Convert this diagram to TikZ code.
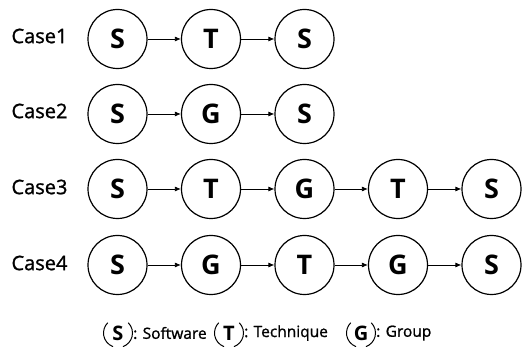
\documentclass[tikz,border=0pt]{standalone}
\usepackage{fontspec}
\setmainfont{Open Sans}
\newfontfamily\semifont[FakeBold=1.2]{Open Sans}
\usetikzlibrary{arrows.meta}
\begin{document}
\begin{tikzpicture}[x=1pt,y=-1pt,
  state/.style={circle,draw,line width=1.2pt,minimum size=59pt,inner sep=0pt,
    font=\fontsize{27}{29}\selectfont\bfseries},
  caselabel/.style={font=\semifont\fontsize{20}{22}\selectfont},
  link/.style={-{Latex[length=6pt,width=5pt]},line width=0.8pt},
  legtext/.style={anchor=west,inner sep=0pt,font=\semifont\fontsize{15.5}{17}\selectfont},
  legletter/.style={inner sep=0pt,font=\fontsize{20}{22}\selectfont\bfseries}]
\useasboundingbox (0,0) rectangle (525,347);
% row labels
\node[caselabel] (c1) at (39.5,36) {Case1};
\node[caselabel] (c2) at (39.5,111) {Case2};
\node[caselabel] (c3) at (39.5,187) {Case3};
\node[caselabel] (c4) at (39.5,263) {Case4};
% Case 1
\node[state] (a1) at (117.5,39) {S};
\node[state] (a2) at (211,39) {T};
\node[state] (a3) at (304.5,39) {S};
\draw[link] (a1) -- (a2);
\draw[link] (a2) -- (a3);
% Case 2
\node[state] (b1) at (117.5,114) {S};
\node[state] (b2) at (211,114) {G};
\node[state] (b3) at (304.5,114) {S};
\draw[link] (b1) -- (b2);
\draw[link] (b2) -- (b3);
% Case 3
\node[state] (d1) at (117.5,189) {S};
\node[state] (d2) at (211,189) {T};
\node[state] (d3) at (304.5,189) {G};
\node[state] (d4) at (398,189) {T};
\node[state] (d5) at (491.5,189) {S};
\foreach \i/\j in {1/2,2/3,3/4,4/5} \draw[link] (d\i) -- (d\j);
% Case 4
\node[state] (e1) at (117.5,265) {S};
\node[state] (e2) at (211,265) {G};
\node[state] (e3) at (304.5,265) {T};
\node[state] (e4) at (398,265) {G};
\node[state] (e5) at (491.5,265) {S};
\foreach \i/\j in {1/2,2/3,3/4,4/5} \draw[link] (e\i) -- (e\j);
% legend: letters framed by side arcs (y axis points down, so positive angles lie below)
\foreach \n/\x/\l in {ls/118/S,lt/229/T,lg/361/G}{
  \node[legletter] (\n) at (\x,333) {\l};
  \draw[line width=1pt] (\n.center) ++(110:14.5) arc[start angle=110,end angle=225,radius=14.5];
  \draw[line width=1pt] (\n.center) ++(-45:14.5) arc[start angle=-45,end angle=70,radius=14.5];
}
\node[legtext] (lsw) at (133,333) {: Software};
\node[legtext] (ltq) at (244,333) {: Technique};
\node[legtext] (lgp) at (376,333) {: Group};
\end{tikzpicture}
\end{document}
